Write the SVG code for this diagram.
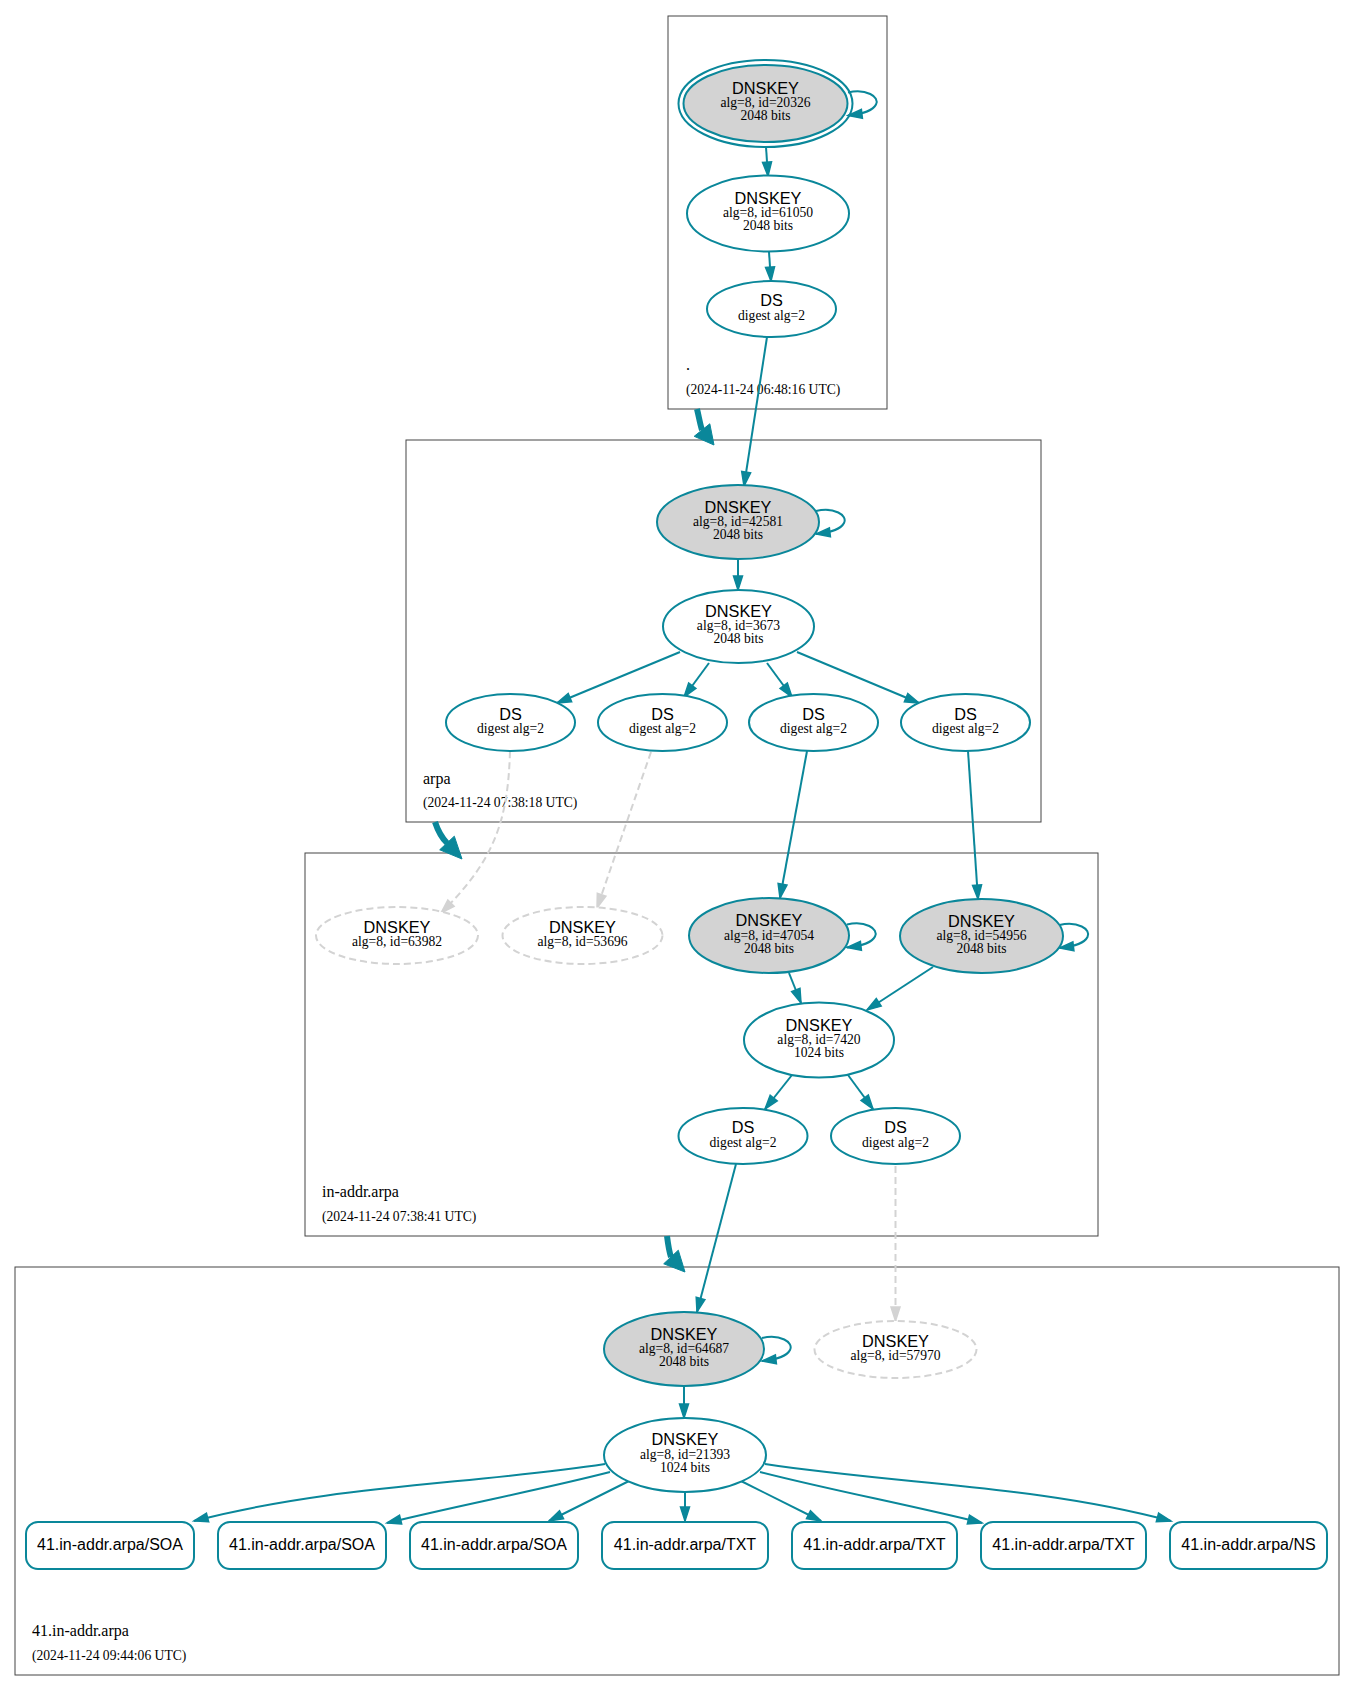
<svg xmlns="http://www.w3.org/2000/svg" width="1355" height="1692" viewBox="0 0 1355 1692">
<defs>
<style>
.c{fill:none;stroke:#444;stroke-width:1}
.n{fill:#fff;stroke:#0a879a;stroke-width:2}
.o{fill:none;stroke:#0a879a;stroke-width:2}
.k{fill:#d3d3d3;stroke:#0a879a;stroke-width:2}
.d{fill:#fff;stroke:#d3d3d3;stroke-width:2;stroke-dasharray:7,4}
.e{fill:none;stroke:#0a879a;stroke-width:2;marker-end:url(#ah)}
.ed{fill:none;stroke:#d3d3d3;stroke-width:2;stroke-dasharray:7,4;marker-end:url(#ahg)}
.t{fill:none;stroke:#0a879a;stroke-width:6}
.h{fill:#0a879a;stroke:#0a879a;stroke-width:1}
.b{font-family:"Liberation Sans",Arial,sans-serif;font-size:16.3px;text-anchor:middle;fill:#000}
.r{font-family:"Liberation Sans",Arial,sans-serif;font-size:16px;text-anchor:middle;fill:#000}
.s{font-family:"Liberation Serif","Times New Roman",serif;font-size:13.6px;text-anchor:middle;fill:#000}
.cl{font-family:"Liberation Serif","Times New Roman",serif;font-size:16px;fill:#000}
.cd{font-family:"Liberation Serif","Times New Roman",serif;font-size:13.6px;fill:#000}
</style>
<marker id="ah" markerUnits="userSpaceOnUse" markerWidth="18" markerHeight="14" viewBox="-1 -1 18 14" refX="14" refY="5" orient="auto" overflow="visible">
<path d="M0,0.5 L14,5 L0,9.5 z" fill="#0a879a" stroke="#0a879a" stroke-width="1.5"/>
</marker>
<marker id="ahg" markerUnits="userSpaceOnUse" markerWidth="18" markerHeight="14" viewBox="-1 -1 18 14" refX="14" refY="5" orient="auto" overflow="visible">
<path d="M0,0.5 L14,5 L0,9.5 z" fill="#d3d3d3" stroke="#d3d3d3" stroke-width="1.5"/>
</marker>
</defs>
<rect width="1355" height="1692" fill="#fff"/>

<g id="clusters">
<g id="cluster_root">
<rect class="c" x="668" y="16" width="219" height="393"/>
<text class="cl" x="686" y="370">.</text>
<text class="cd" x="686" y="394">(2024-11-24 06:48:16 UTC)</text>
</g>
<g id="cluster_arpa">
<rect class="c" x="406" y="440" width="635" height="382"/>
<text class="cl" x="423" y="784">arpa</text>
<text class="cd" x="423" y="807">(2024-11-24 07:38:18 UTC)</text>
</g>
<g id="cluster_in-addr">
<rect class="c" x="305" y="853" width="793" height="383"/>
<text class="cl" x="322" y="1197">in-addr.arpa</text>
<text class="cd" x="322" y="1221">(2024-11-24 07:38:41 UTC)</text>
</g>
<g id="cluster_41">
<rect class="c" x="15" y="1267" width="1324" height="408"/>
<text class="cl" x="32" y="1636">41.in-addr.arpa</text>
<text class="cd" x="32" y="1660">(2024-11-24 09:44:06 UTC)</text>
</g>
</g>

<g id="connectors">
<path class="t" d="M697,409 C699,417 700,424 702,430"/>
<polygon class="h" points="714,445 694.2,436.3 709.8,423.8"/>
<path class="t" d="M435,822 C438,831 442,838 447,843"/>
<polygon class="h" points="462,859 439.7,849.8 454.3,836.2"/>
<path class="t" d="M667,1236 C668,1244 669,1251 671,1257"/>
<polygon class="h" points="685,1272 663.7,1263.8 678.3,1250.2"/>

<path class="e" d="M848,92.5 C866,88.5 880,96.5 876,104.5 C873,110.5 865,113.5 848,115.5"/>
<path class="e" d="M766,147 L768,176"/>
<path class="e" d="M769,252 L771,281"/>
<path class="e" d="M767,337 L744,486"/>

<path class="e" d="M816,511 C834,507 848,515 844,523 C841,529 833,532 816,534"/>
<path class="e" d="M738,559 L738,590"/>
<path class="e" d="M680,652 L557,703"/>
<path class="e" d="M709,663 L684,697"/>
<path class="e" d="M767,663 L792,697"/>
<path class="e" d="M797,652 L919,703"/>
<path class="ed" d="M510,751 C508,820 495,860 441,913"/>
<path class="ed" d="M651,752 L597,908"/>
<path class="e" d="M807,751 L780,898"/>
<path class="e" d="M968,751 L978,899"/>

<path class="e" d="M847,924.5 C865,920.5 879,928.5 875,936.5 C872,942.5 864,945.5 847,947.5"/>
<path class="e" d="M1059.5,925 C1077.5,921 1091.5,929 1087.5,937 C1084.5,943 1076.5,946 1059.5,948"/>
<path class="e" d="M789,973 L801,1003"/>
<path class="e" d="M933,967 L867,1010"/>
<path class="e" d="M792,1075 L765,1109"/>
<path class="e" d="M848,1075 L873,1109"/>
<path class="e" d="M736,1164 L697,1312"/>
<path class="ed" d="M895.5,1166 L895.5,1321"/>

<path class="e" d="M762,1338 C780,1334 794,1342 790,1350 C787,1356 779,1359 762,1361"/>
<path class="e" d="M684,1386 L684,1418"/>
<path class="e" d="M605,1464 C465,1485 334,1485 194,1521"/>
<path class="e" d="M610,1472 C540,1490 460,1505 387,1523"/>
<path class="e" d="M629,1481 L549,1521"/>
<path class="e" d="M685,1492 L685,1521"/>
<path class="e" d="M741,1481 L821,1521"/>
<path class="e" d="M760,1472 C830,1490 910,1505 982,1523"/>
<path class="e" d="M765,1464 C905,1485 1036,1485 1171,1521"/>
</g>

<g id="node_dnskey_20326">
<ellipse class="o" cx="765.5" cy="103.5" rx="87" ry="43.5"/>
<ellipse class="k" cx="765.5" cy="103.5" rx="82" ry="38.5"/>
<text class="b" x="765.5" y="93.5">DNSKEY</text>
<text class="s" x="765.5" y="107">alg=8, id=20326</text>
<text class="s" x="765.5" y="120">2048 bits</text>
</g>
<g id="node_dnskey_61050">
<ellipse class="n" cx="768" cy="213.5" rx="81" ry="38"/>
<text class="b" x="768" y="203.5">DNSKEY</text>
<text class="s" x="768" y="217">alg=8, id=61050</text>
<text class="s" x="768" y="230">2048 bits</text>
</g>
<g id="node_ds_root">
<ellipse class="n" cx="771.5" cy="309" rx="64.5" ry="28"/>
<text class="b" x="771.5" y="306">DS</text>
<text class="s" x="771.5" y="319.5">digest alg=2</text>
</g>

<g id="node_dnskey_42581">
<ellipse class="k" cx="738" cy="522" rx="81" ry="37"/>
<text class="b" x="738" y="512.5">DNSKEY</text>
<text class="s" x="738" y="526">alg=8, id=42581</text>
<text class="s" x="738" y="539">2048 bits</text>
</g>
<g id="node_dnskey_3673">
<ellipse class="n" cx="738.5" cy="626.5" rx="75.5" ry="36.5"/>
<text class="b" x="738.5" y="617">DNSKEY</text>
<text class="s" x="738.5" y="630">alg=8, id=3673</text>
<text class="s" x="738.5" y="643">2048 bits</text>
</g>
<g id="node_ds_arpa_1">
<ellipse class="n" cx="510.5" cy="722.5" rx="64.5" ry="28.5"/>
<text class="b" x="510.5" y="720">DS</text>
<text class="s" x="510.5" y="733">digest alg=2</text>
</g>
<g id="node_ds_arpa_2">
<ellipse class="n" cx="662.5" cy="722.5" rx="64.5" ry="28.5"/>
<text class="b" x="662.5" y="720">DS</text>
<text class="s" x="662.5" y="733">digest alg=2</text>
</g>
<g id="node_ds_arpa_3">
<ellipse class="n" cx="813.5" cy="722.5" rx="64.5" ry="28.5"/>
<text class="b" x="813.5" y="720">DS</text>
<text class="s" x="813.5" y="733">digest alg=2</text>
</g>
<g id="node_ds_arpa_4">
<ellipse class="n" cx="965.5" cy="722.5" rx="64.5" ry="28.5"/>
<text class="b" x="965.5" y="720">DS</text>
<text class="s" x="965.5" y="733">digest alg=2</text>
</g>

<g id="node_dnskey_63982">
<ellipse class="d" cx="397" cy="935.5" rx="81" ry="28.5"/>
<text class="b" x="397" y="933">DNSKEY</text>
<text class="s" x="397" y="946">alg=8, id=63982</text>
</g>
<g id="node_dnskey_53696">
<ellipse class="d" cx="582.5" cy="935.5" rx="80" ry="28.5"/>
<text class="b" x="582.5" y="933">DNSKEY</text>
<text class="s" x="582.5" y="946">alg=8, id=53696</text>
</g>
<g id="node_dnskey_47054">
<ellipse class="k" cx="769" cy="935.5" rx="80" ry="37.5"/>
<text class="b" x="769" y="926">DNSKEY</text>
<text class="s" x="769" y="939.5">alg=8, id=47054</text>
<text class="s" x="769" y="952.5">2048 bits</text>
</g>
<g id="node_dnskey_54956">
<ellipse class="k" cx="981.5" cy="936" rx="81.5" ry="37"/>
<text class="b" x="981.5" y="926.5">DNSKEY</text>
<text class="s" x="981.5" y="939.5">alg=8, id=54956</text>
<text class="s" x="981.5" y="953">2048 bits</text>
</g>
<g id="node_dnskey_7420">
<ellipse class="n" cx="819" cy="1040" rx="75" ry="37.5"/>
<text class="b" x="819" y="1030.5">DNSKEY</text>
<text class="s" x="819" y="1044">alg=8, id=7420</text>
<text class="s" x="819" y="1057">1024 bits</text>
</g>
<g id="node_ds_inaddr_1">
<ellipse class="n" cx="743" cy="1136" rx="64.5" ry="28"/>
<text class="b" x="743" y="1133">DS</text>
<text class="s" x="743" y="1146.5">digest alg=2</text>
</g>
<g id="node_ds_inaddr_2">
<ellipse class="n" cx="895.5" cy="1136" rx="64.5" ry="28"/>
<text class="b" x="895.5" y="1133">DS</text>
<text class="s" x="895.5" y="1146.5">digest alg=2</text>
</g>

<g id="node_dnskey_64687">
<ellipse class="k" cx="684" cy="1349" rx="80" ry="37"/>
<text class="b" x="684" y="1339.5">DNSKEY</text>
<text class="s" x="684" y="1353">alg=8, id=64687</text>
<text class="s" x="684" y="1366">2048 bits</text>
</g>
<g id="node_dnskey_57970">
<ellipse class="d" cx="895.5" cy="1349.5" rx="81" ry="28.5"/>
<text class="b" x="895.5" y="1347">DNSKEY</text>
<text class="s" x="895.5" y="1360">alg=8, id=57970</text>
</g>
<g id="node_dnskey_21393">
<ellipse class="n" cx="685" cy="1455" rx="81" ry="37"/>
<text class="b" x="685" y="1445">DNSKEY</text>
<text class="s" x="685" y="1458.5">alg=8, id=21393</text>
<text class="s" x="685" y="1471.5">1024 bits</text>
</g>

<g id="node_rr_soa_1">
<rect class="n" x="26" y="1522" width="168" height="47" rx="12"/>
<text class="r" x="110" y="1550">41.in-addr.arpa/SOA</text>
</g>
<g id="node_rr_soa_2">
<rect class="n" x="218" y="1522" width="168" height="47" rx="12"/>
<text class="r" x="302" y="1550">41.in-addr.arpa/SOA</text>
</g>
<g id="node_rr_soa_3">
<rect class="n" x="410" y="1522" width="168" height="47" rx="12"/>
<text class="r" x="494" y="1550">41.in-addr.arpa/SOA</text>
</g>
<g id="node_rr_txt_1">
<rect class="n" x="602" y="1522" width="166" height="47" rx="12"/>
<text class="r" x="685" y="1550">41.in-addr.arpa/TXT</text>
</g>
<g id="node_rr_txt_2">
<rect class="n" x="792" y="1522" width="165" height="47" rx="12"/>
<text class="r" x="874.5" y="1550">41.in-addr.arpa/TXT</text>
</g>
<g id="node_rr_txt_3">
<rect class="n" x="981" y="1522" width="165" height="47" rx="12"/>
<text class="r" x="1063.5" y="1550">41.in-addr.arpa/TXT</text>
</g>
<g id="node_rr_ns">
<rect class="n" x="1170" y="1522" width="157" height="47" rx="12"/>
<text class="r" x="1248.5" y="1550">41.in-addr.arpa/NS</text>
</g>
</svg>
